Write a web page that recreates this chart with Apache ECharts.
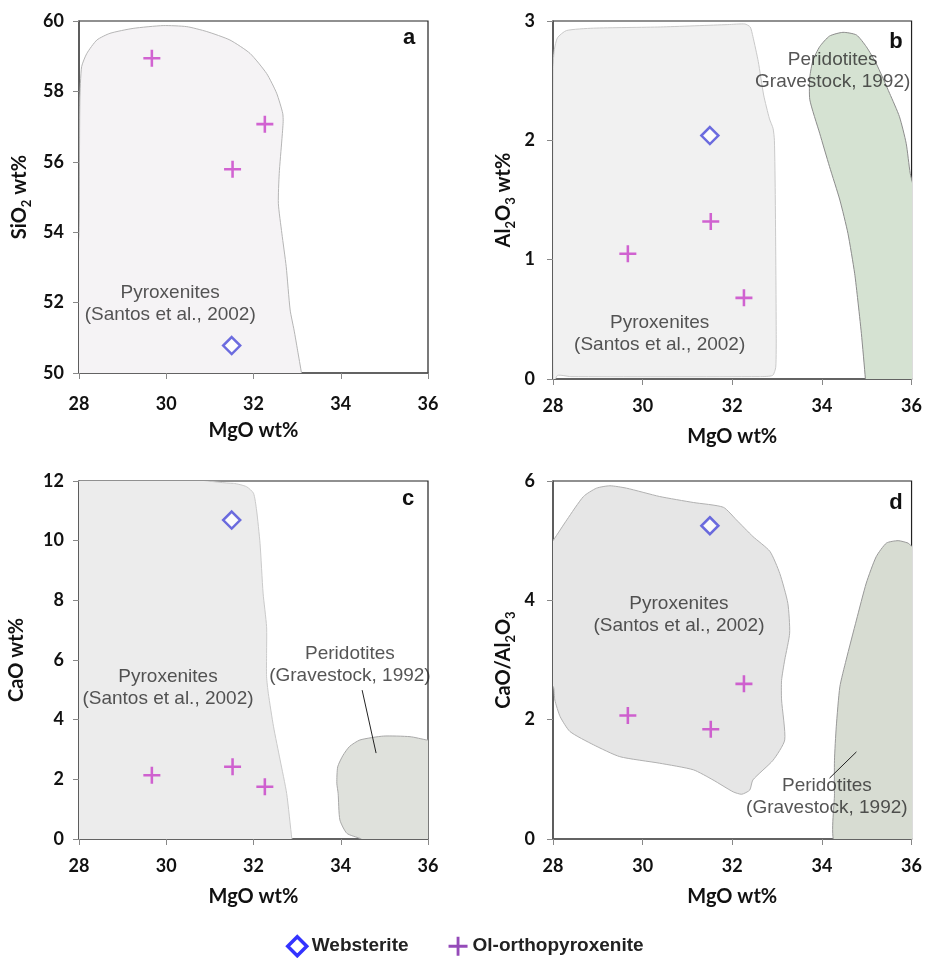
<!DOCTYPE html>
<html>
<head>
<meta charset="utf-8">
<script src="https://cdn.jsdelivr.net/npm/echarts@6.0.0/dist/echarts.min.js"></script>
<style>
  html, body { margin: 0; padding: 0; background: #fff; }
  #chart { width: 925px; height: 958px; }
</style>
</head>
<body>
<div id="chart"></div>
<script>
// sample values (MgO on x for every panel)
const mgoWeb = [31.5];
const mgoOl = [29.67, 31.52, 32.26];
const sio2Web = [50.78];
const sio2Ol = [58.94, 55.79, 57.07];
const al2o3Web = [2.04];
const al2o3Ol = [1.05, 1.32, 0.68];
const caoWeb = [10.69];
const caoOl = [2.14, 2.42, 1.75];
const ratioWeb = [5.25];
const ratioOl = [2.07, 1.84, 2.6];

// axis ranges
const xRange = [28, 36, 2];
const yRanges = [[50, 60, 2], [0, 3, 1], [0, 12, 2], [0, 6, 2]];
const panelLetters = ['a', 'b', 'c', 'd'];

// compositional fields [MgO, y]
const pyroxA = [[27.9,49.9],[28.0,53.97],[28.02,57.76],[28.06,58.70],[28.18,59.08],[28.41,59.46],[28.71,59.65],[29.24,59.79],[29.93,59.87],[30.47,59.84],[30.93,59.70],[31.46,59.46],[31.92,59.08],[32.30,58.51],[32.53,57.95],[32.67,57.38],[32.68,57.14],[32.65,56.62],[32.59,55.67],[32.57,54.82],[32.65,53.97],[32.75,53.02],[32.84,51.79],[32.93,51.22],[33.01,50.65],[33.10,50.0],[33.11,49.9]];
const pyroxB = [[28.0,-0.05],[28.0,2.6],[28.03,2.76],[28.1,2.86],[28.3,2.92],[28.9,2.94],[30.4,2.95],[31.9,2.97],[32.28,2.975],[32.4,2.95],[32.46,2.87],[32.58,2.66],[32.70,2.38],[32.83,2.18],[32.91,2.1],[32.94,2.0],[32.96,1.5],[32.98,0.4],[32.97,0.1],[32.9,0.03],[32.6,0.02],[28.4,0.02],[28.1,0.03]];
const peridB = [[33.73,2.34],[33.73,2.53],[33.80,2.67],[33.95,2.785],[34.17,2.874],[34.47,2.905],[34.77,2.883],[34.99,2.785],[35.21,2.645],[35.51,2.394],[35.73,2.198],[35.88,1.975],[35.97,1.724],[36.1,1.5],[36.1,-0.1],[34.98,-0.1],[34.97,0.0],[34.88,0.383],[34.80,0.662],[34.73,0.886],[34.58,1.221],[34.40,1.5],[34.17,1.779],[33.95,2.059]];
const pyroxC = [[27.9,11.98],[31.54,11.92],[31.84,11.81],[32.0,11.59],[32.07,11.03],[32.15,9.91],[32.22,8.24],[32.30,7.12],[32.30,6.22],[32.30,5.44],[32.34,4.88],[32.46,3.76],[32.61,2.65],[32.76,1.53],[32.88,0.0],[32.9,-0.1],[27.9,-0.1]];
const peridC = [[33.91,1.87],[33.93,2.42],[34.05,2.8],[34.2,3.1],[34.44,3.32],[34.98,3.45],[35.59,3.43],[35.97,3.32],[36.1,3.3],[36.1,-0.1],[34.6,-0.1],[34.44,0.02],[34.14,0.19],[33.98,0.64],[33.94,1.53]];
const pyroxD = [[27.9,4.9],[28.01,5.01],[28.31,5.35],[28.68,5.74],[28.97,5.88],[29.27,5.92],[29.64,5.88],[30.38,5.74],[31.13,5.64],[31.80,5.56],[32.09,5.35],[32.46,5.07],[32.84,4.82],[33.06,4.45],[33.24,3.95],[33.28,3.45],[33.17,3.0],[33.10,2.66],[33.10,2.33],[33.17,1.66],[32.91,1.32],[32.46,0.99],[32.39,0.82],[32.21,0.75],[32.02,0.79],[31.57,0.99],[31.13,1.16],[30.38,1.27],[29.49,1.38],[28.90,1.58],[28.38,1.80],[28.16,2.05],[28.04,2.33],[28.01,2.55],[27.9,2.6]];
const peridD = [[34.31,-0.1],[34.28,0.76],[34.28,1.32],[34.32,1.88],[34.40,2.55],[34.54,3.0],[34.77,3.67],[34.99,4.29],[35.21,4.73],[35.44,4.96],[35.70,5.00],[35.92,4.96],[36.0,4.91],[36.1,4.9],[36.1,-0.1]];

// field labels and leader lines
const pyroxText = 'Pyroxenites\n(Santos et al., 2002)';
const labelsA = [{ name: pyroxText, value: [30.09, 51.96] }];
const labelsB = [{ name: pyroxText, value: [30.38, 0.377] }, { name: 'Peridotites\nGravestock, 1992)', value: [34.24, 2.58] }];
const labelsC = [{ name: pyroxText, value: [30.04, 5.06] }, { name: 'Peridotites\n(Gravestock, 1992)', value: [34.21, 5.85] }];
const labelsD = [{ name: pyroxText, value: [30.81, 3.75] }, { name: 'Peridotites\n(Gravestock, 1992)', value: [34.11, 0.70] }];
const leaderC = [[34.49, 4.99], [34.81, 2.88]];
const leaderD = [[34.17, 1.02], [34.77, 1.46]];

const plusPath = 'path://M8.5,0h3v8.5h8.5v3h-8.5v8.5h-3v-8.5h-8.5v-3h8.5z';
const tickFont = 'Lato, "Open Sans", sans-serif';
const textFont = '"Liberation Sans", Arial, sans-serif';

var chart = echarts.init(document.getElementById('chart'));

var grids = [
  { left: 79, top: 21, width: 349, height: 352 },
  { left: 553, top: 21, width: 359, height: 358 },
  { left: 79, top: 481, width: 349, height: 358 },
  { left: 553, top: 481, width: 359, height: 358 }
].map(g => Object.assign(g, { show: true, borderColor: '#222', borderWidth: 1.2, backgroundColor: 'transparent' }));

var yNames = [
  '{n|SiO}{s|2}{n| wt%}',
  '{n|Al}{s|2}{n|O}{s|3}{n| wt%}',
  '{n|CaO wt%}',
  '{n|CaO/Al}{s|2}{n|O}{s|3}'
];
var yNameGaps = [46, 36, 49, 36];
var yLabelMargins = [15, 18, 15, 18];
var xLabelMargins = [22, 18, 18, 18];

var axisLine = { show: true, lineStyle: { color: '#555', width: 1.5 } };
var axisTick = { show: true, length: 6, lineStyle: { color: '#888' } };

var xAxes = grids.map((g, i) => ({
  type: 'value', gridIndex: i, min: xRange[0], max: xRange[1], interval: xRange[2],
  splitLine: { show: false }, axisLine: axisLine, axisTick: axisTick,
  axisLabel: { fontFamily: tickFont, fontWeight: 'bold', fontSize: 18, color: '#111', margin: xLabelMargins[i] },
  name: 'MgO wt%', nameLocation: 'middle', nameGap: 48,
  nameTextStyle: { fontFamily: tickFont, fontWeight: 'bold', fontSize: 20, color: '#111' }
}));

var yAxes = grids.map((g, i) => ({
  type: 'value', gridIndex: i, min: yRanges[i][0], max: yRanges[i][1], interval: yRanges[i][2],
  splitLine: { show: false }, axisLine: axisLine, axisTick: axisTick,
  axisLabel: { fontFamily: tickFont, fontWeight: 'bold', fontSize: 18, color: '#111', margin: yLabelMargins[i] },
  name: yNames[i], nameLocation: 'middle', nameGap: yNameGaps[i], nameRotate: 90,
  nameTextStyle: {
    rich: {
      n: { fontFamily: tickFont, fontWeight: 'bold', fontSize: 20, color: '#111', lineHeight: 26 },
      s: { fontFamily: tickFont, fontWeight: 'bold', fontSize: 13, color: '#111', lineHeight: 13, verticalAlign: 'bottom' }
    }
  }
}));

function field(i, pts, fill, stroke) {
  return {
    type: 'custom', xAxisIndex: i, yAxisIndex: i, silent: true, clip: true, z: 1,
    data: [pts[0]],
    renderItem: function (params, api) {
      return {
        type: 'polygon',
        shape: { points: pts.map(p => api.coord(p)), smooth: 0.2 },
        style: { fill: fill, stroke: stroke, lineWidth: 1 }
      };
    }
  };
}

function pairs(xs, ys) { return xs.map((x, k) => [x, ys[k]]); }

function websterite(i, ys) {
  return {
    name: 'Websterite', type: 'scatter', xAxisIndex: i, yAxisIndex: i, z: 5,
    symbol: 'diamond', symbolSize: 17,
    itemStyle: { color: '#fff', borderColor: '#4848d8', borderWidth: 2.5 },
    data: pairs(mgoWeb, ys)
  };
}

function olOpx(i, ys) {
  return {
    name: 'Ol-orthopyroxenite', type: 'scatter', xAxisIndex: i, yAxisIndex: i, z: 5,
    symbol: plusPath, symbolSize: 17,
    itemStyle: { color: '#c83fc8' },
    data: pairs(mgoOl, ys)
  };
}

function labels(i, items) {
  return {
    type: 'scatter', xAxisIndex: i, yAxisIndex: i, silent: true, z: 4, symbolSize: 0,
    label: { show: true, position: 'inside', formatter: p => p.name, fontFamily: textFont, fontSize: 19, lineHeight: 22, color: '#2a2a2a' },
    data: items
  };
}

function leader(i, pts) {
  return {
    type: 'line', xAxisIndex: i, yAxisIndex: i, silent: true, z: 4, symbol: 'none',
    lineStyle: { color: '#222', width: 1 }, data: pts
  };
}

var series = [
  field(0, pyroxA, '#f5f3f5', '#b5b5b5'),
  field(1, pyroxB, '#f1f1f1', '#c9c9c9'),
  field(1, peridB, '#d5e2d2', '#8c8c8c'),
  field(2, pyroxC, '#ececec', '#cacaca'),
  field(2, peridC, '#dfe1dc', '#a8a8a8'),
  field(3, pyroxD, '#e6e6e6', '#b0b0b0'),
  field(3, peridD, '#d7dcd2', '#999999'),
  labels(0, labelsA), labels(1, labelsB), labels(2, labelsC), labels(3, labelsD),
  leader(2, leaderC), leader(3, leaderD),
  websterite(0, sio2Web), olOpx(0, sio2Ol),
  websterite(1, al2o3Web), olOpx(1, al2o3Ol),
  websterite(2, caoWeb), olOpx(2, caoOl),
  websterite(3, ratioWeb), olOpx(3, ratioOl)
];

var letterPos = [[409, 38], [896, 42], [408, 499], [896, 503]];

var option = {
  animation: false,
  grid: grids,
  xAxis: xAxes,
  yAxis: yAxes,
  legend: {
    top: 930, left: 281, itemGap: 40, itemWidth: 19, itemHeight: 19,
    textStyle: { fontFamily: textFont, fontWeight: 'bold', fontSize: 19, color: '#222' },
    data: [
      { name: 'Websterite', icon: 'diamond', itemStyle: { color: '#fff', borderColor: '#0000ff', borderWidth: 3.5 } },
      { name: 'Ol-orthopyroxenite', icon: plusPath, itemStyle: { color: '#7a1ea8' } }
    ]
  },
  graphic: letterPos.map((p, i) => ({
    type: 'text', x: p[0], y: p[1], silent: true,
    style: { text: panelLetters[i], font: 'bold 22px ' + textFont, fill: '#111', align: 'center', verticalAlign: 'middle' }
  })),
  series: series
};

chart.setOption(option);
</script>
</body>
</html>
